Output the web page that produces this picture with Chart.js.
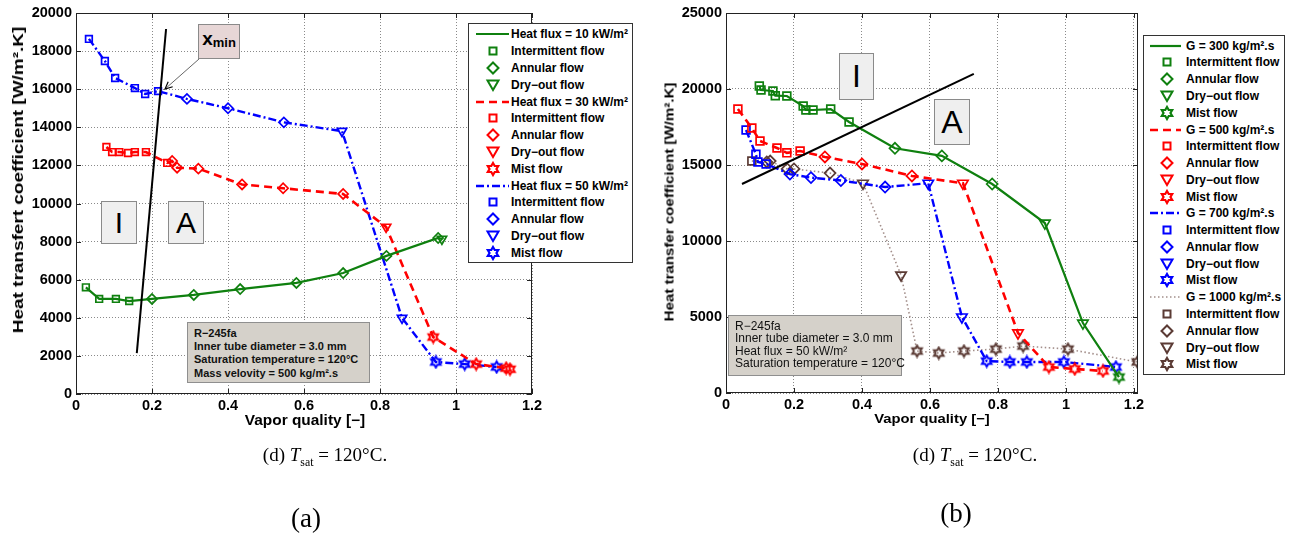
<!DOCTYPE html>
<html>
<head>
<meta charset="utf-8">
<script src="https://cdn.jsdelivr.net/npm/chart.js@4.4.0/dist/chart.umd.min.js"></script>
<style>
  html, body { margin: 0; padding: 0; background: #fff; }
  #page { position: relative; width: 1295px; height: 536px; overflow: hidden; font-family: "Liberation Sans", Arial, sans-serif; }
  canvas { position: absolute; top: 0; }
  .ovl { position: absolute; z-index: 2; }
  .axtitle { position: absolute; z-index: 2; font-weight: bold; white-space: nowrap; color: #000; }
  .tag { position: absolute; z-index: 2; box-sizing: border-box; background: #efefef; border: 1px solid #8a8a8a;
         display: flex; align-items: center; justify-content: center; font-family: "Liberation Sans", Arial, sans-serif; color: #000; }
  .info { position: absolute; z-index: 2; box-sizing: border-box; background: #d5d1ca; border: 1px solid #8f8f8f; color: #111; }
  .info div { position: absolute; white-space: nowrap; }
  .legend { position: absolute; z-index: 3; box-sizing: border-box; background: #fff; border: 1px solid #333; }
  .legend .row { position: absolute; left: 0; height: 16px; width: 100%; }
  .legend svg { position: absolute; top: 0; }
  .legend span { position: absolute; top: 0; line-height: 16px; font-size: 12px; font-weight: bold; white-space: nowrap; color: #000; }
  .cap { position: absolute; z-index: 2; font-family: "Liberation Serif", "DejaVu Serif", serif; color: #000; white-space: nowrap; transform: translate(-50%, -50%); }
  .cap sub { font-size: 0.62em; vertical-align: -0.35em; }
</style>
</head>
<body>
<div id="page">
  <canvas id="chartA" width="546" height="432" style="left:0px;width:546px;height:432px"></canvas>
  <canvas id="chartB" width="510" height="432" style="left:640px;width:510px;height:432px"></canvas>
</div>
<script>
/* ===== (a) heat flux series, G = 500 kg/m2.s ===== */
const xQ10 = [0.026, 0.061, 0.105, 0.14, 0.20, 0.31, 0.432, 0.58, 0.703, 0.817, 0.953, 0.963];
const yQ10 = [5600, 4990, 4990, 4880, 4990, 5200, 5510, 5830, 6350, 7250, 8190, 8140];
const fQ10 = ["I", "I", "I", "I", "A", "A", "A", "A", "A", "A", "A", "D"];

const xQ30 = [0.08, 0.095, 0.114, 0.137, 0.155, 0.184, 0.24, 0.253, 0.266, 0.322, 0.437, 0.545, 0.703, 0.816, 0.94, 1.053, 1.132, 1.142];
const yQ30 = [12970, 12700, 12700, 12650, 12700, 12700, 12130, 12230, 11880, 11830, 11000, 10800, 10500, 8770, 2990, 1570, 1360, 1300];
const fQ30 = ["I", "I", "I", "I", "I", "I", "I", "A", "A", "A", "A", "A", "A", "D", "M", "M", "M", "M"];

const xQ50 = [0.034, 0.076, 0.103, 0.155, 0.182, 0.216, 0.292, 0.40, 0.547, 0.70, 0.858, 0.947, 1.023, 1.107];
const yQ50 = [18640, 17480, 16590, 16060, 15750, 15900, 15490, 15000, 14260, 13800, 3990, 1680, 1570, 1420];
const fQ50 = ["I", "I", "I", "I", "I", "I", "A", "A", "A", "D", "D", "M", "M", "M"];

const xLineA = [0.16, 0.237];
const yLineA = [2150, 19160];

/* ===== (b) mass velocity series, q = 50 kW/m2 ===== */
const xG300 = [0.098, 0.103, 0.138, 0.145, 0.179, 0.227, 0.235, 0.256, 0.308, 0.362, 0.497, 0.635, 0.783, 0.938, 1.05, 1.156];
const yG300 = [20200, 19930, 19870, 19560, 19540, 18880, 18620, 18620, 18680, 17830, 16100, 15600, 13750, 11180, 4600, 1050];
const fG300 = ["I", "I", "I", "I", "I", "I", "I", "I", "I", "I", "A", "A", "A", "D", "D", "M"];

const xG500 = [0.035, 0.076, 0.10, 0.15, 0.179, 0.218, 0.291, 0.40, 0.547, 0.697, 0.859, 0.95, 1.026, 1.109];
const yG500 = [18680, 17430, 16580, 16120, 15800, 15920, 15530, 15070, 14280, 13800, 3950, 1710, 1580, 1450];
const fG500 = ["I", "I", "I", "I", "I", "I", "A", "A", "A", "D", "D", "M", "M", "M"];

const xG700 = [0.059, 0.088, 0.094, 0.118, 0.188, 0.25, 0.338, 0.468, 0.595, 0.694, 0.767, 0.835, 0.885, 0.994, 1.147];
const yG700 = [17300, 15700, 15200, 15070, 14400, 14170, 13980, 13550, 13800, 5000, 2100, 2040, 2040, 2040, 1710];
const fG700 = ["I", "I", "I", "I", "A", "A", "A", "A", "D", "D", "M", "M", "M", "M", "M"];

const xG1000 = [0.076, 0.12, 0.13, 0.18, 0.20, 0.306, 0.403, 0.515, 0.562, 0.626, 0.70, 0.794, 0.874, 1.006, 1.21];
const yG1000 = [15260, 15200, 15260, 14740, 14740, 14470, 13800, 7760, 2760, 2630, 2760, 2890, 3090, 2890, 2040];
const fG1000 = ["I", "A", "A", "A", "A", "A", "D", "D", "M", "M", "M", "M", "M", "M", "M"];

const xLineB = [0.047, 0.729];
const yLineB = [13750, 20990];

/* ===== axes ===== */
const xTicks = [0, 0.2, 0.4, 0.6, 0.8, 1, 1.2];
const xTickLabels = ["0", "0.2", "0.4", "0.6", "0.8", "1", "1.2"];
const yTicksA = [0, 2000, 4000, 6000, 8000, 10000, 12000, 14000, 16000, 18000, 20000];
const yTicksB = [0, 5000, 10000, 15000, 20000, 25000];

/* ===== styles ===== */
const GREEN = "#0f800f", RED = "#ff0000", BLUE = "#0000ff", BROWN = "#5b3b35", BROWN_LINE = "#a38f8b";
const FLOW_NAME = { I: "Intermittent flow", A: "Annular flow", D: "Dry\u2212out flow", M: "Mist flow" };
const MARKER = { I: "rect", A: "rectRot", D: "triangle" };

Chart.defaults.font.family = "'Liberation Sans', Arial, sans-serif";
Chart.defaults.color = "#000";

/* ========= Hilfsfunktionen ========= */
function hexPoints(cx, cy, r) {
  const pts = [];
  for (let k = 0; k < 12; k++) {
    const a = -Math.PI / 2 + k * Math.PI / 6;
    const rr = k % 2 ? r / Math.sqrt(3) : r;
    pts.push([cx + rr * Math.cos(a), cy + rr * Math.sin(a)]);
  }
  return pts;
}

function hexagram(color, r) {
  const c = document.createElement("canvas");
  const size = Math.ceil(2 * r + 4);
  c.width = c.height = size;
  const g = c.getContext("2d");
  g.strokeStyle = color;
  g.lineWidth = 2;
  g.beginPath();
  hexPoints(size / 2, size / 2, r).forEach((p, i) => i ? g.lineTo(p[0], p[1]) : g.moveTo(p[0], p[1]));
  g.closePath();
  g.stroke();
  return c;
}

function series(xs, ys, flows, st, sizes) {
  const hex = hexagram(st.color, sizes.M);
  return {
    data: xs.map((x, i) => ({ x, y: ys[i] })),
    showLine: true,
    borderColor: st.lineColor,
    borderWidth: st.width,
    borderDash: st.dash,
    pointStyle: flows.map(f => f === "M" ? hex : MARKER[f]),
    pointRotation: flows.map(f => f === "D" ? 180 : 0),
    pointRadius: flows.map(f => sizes[f]),
    pointBorderColor: st.color,
    pointBackgroundColor: "rgba(0,0,0,0)",
    pointBorderWidth: 1.7,
    tension: 0
  };
}

function boundary(xs, ys) {
  return {
    data: xs.map((x, i) => ({ x, y: ys[i] })),
    showLine: true, borderColor: "#000", borderWidth: 2, pointRadius: 0
  };
}

/* MATLAB-like box with inward ticks */
const boxPlugin = {
  id: "matlabBox",
  afterDatasetsDraw(chart) {
    const { ctx, chartArea: a, scales: { x, y } } = chart;
    ctx.save();
    ctx.strokeStyle = "#222";
    ctx.lineWidth = 1;
    ctx.strokeRect(a.left + 0.5, a.top + 0.5, a.right - a.left - 1, a.bottom - a.top - 1);
    ctx.beginPath();
    x.ticks.forEach(t => {
      const px = Math.round(x.getPixelForValue(t.value)) + 0.5;
      ctx.moveTo(px, a.bottom); ctx.lineTo(px, a.bottom - 5);
      ctx.moveTo(px, a.top); ctx.lineTo(px, a.top + 5);
    });
    y.ticks.forEach(t => {
      const py = Math.round(y.getPixelForValue(t.value)) + 0.5;
      ctx.moveTo(a.left, py); ctx.lineTo(a.left + 5, py);
      ctx.moveTo(a.right, py); ctx.lineTo(a.right - 5, py);
    });
    ctx.stroke();
    ctx.restore();
  }
};

function makeOptions(cfg) {
  const tickFont = { size: 14.5, weight: "bold" };
  return {
    responsive: false,
    animation: false,
    events: [],
    layout: { padding: { top: 13, right: cfg.rightPad, left: 0, bottom: 0 } },
    plugins: { legend: { display: false }, tooltip: { enabled: false } },
    scales: {
      x: {
        type: "linear", min: 0, max: cfg.xMax,
        afterBuildTicks: s => { s.ticks = xTicks.map(v => ({ value: v })); },
        afterFit: s => { s.height = cfg.xAxisHeight; },
        ticks: { font: tickFont, padding: 3, maxRotation: 0, callback: (v, i) => xTickLabels[i] },
        grid: { color: "#8a8a8a", lineWidth: 1, drawTicks: false },
        border: { display: false, dash: [1, 2] }
      },
      y: {
        type: "linear", min: 0, max: cfg.yMax,
        afterBuildTicks: s => { s.ticks = cfg.yTicks.map(v => ({ value: v })); },
        afterFit: s => { s.width = cfg.yAxisWidth; },
        ticks: { font: tickFont, padding: 4, callback: (v, i) => String(cfg.yTicks[i]) },
        grid: { color: "#8a8a8a", lineWidth: 1, drawTicks: false },
        border: { display: false, dash: [1, 2] }
      }
    }
  };
}

/* ========= Legende ========= */
function symbolSVG(kind, st, L) {
  const c = st.color;
  let inner = "";
  if (kind === "line") {
    const dash = st.dash.length ? `stroke-dasharray="${st.dash.join(",")}"` : "";
    inner = `<line x1="${L.x1}" y1="8" x2="${L.x2}" y2="8" stroke="${st.lineColor}" stroke-width="${st.width}" ${dash}/>`;
  } else if (kind === "I") {
    inner = `<rect x="${L.cx - 3.5}" y="4.5" width="7" height="7" fill="none" stroke="${c}" stroke-width="2"/>`;
  } else if (kind === "A") {
    inner = `<polygon points="${L.cx},2.5 ${L.cx + 5.5},8 ${L.cx},13.5 ${L.cx - 5.5},8" fill="none" stroke="${c}" stroke-width="2"/>`;
  } else if (kind === "D") {
    inner = `<polygon points="${L.cx - 5.5},3.5 ${L.cx + 5.5},3.5 ${L.cx},13" fill="none" stroke="${c}" stroke-width="2"/>`;
  } else {
    const pts = hexPoints(L.cx, 8, 6).map(p => p[0].toFixed(2) + "," + p[1].toFixed(2)).join(" ");
    inner = `<polygon points="${pts}" fill="none" stroke="${c}" stroke-width="2.2"/>`;
  }
  return `<svg width="40" height="16" style="left:${L.svgLeft}px">${inner}</svg>`;
}

function buildLegend(items, L) {
  const box = document.createElement("div");
  box.className = "legend";
  Object.assign(box.style, { left: L.left + "px", top: L.top + "px", width: L.width + "px", height: L.height + "px" });
  let row = 0;
  items.forEach(it => {
    const kinds = ["line"].concat(it.flows);
    kinds.forEach(k => {
      const r = document.createElement("div");
      r.className = "row";
      r.style.top = (L.center0 + row * L.step - L.top - 1 - 8) + "px";
      const text = k === "line" ? it.label : FLOW_NAME[k];
      r.innerHTML = symbolSVG(k, it, L) + `<span style="left:${L.textLeft}px">${text}</span>`;
      box.appendChild(r);
      row++;
    });
  });
  document.getElementById("page").appendChild(box);
}

/* ========= Overlays ========= */
function addEl(cls, html, style) {
  const d = document.createElement("div");
  d.className = cls;
  d.innerHTML = html;
  Object.assign(d.style, style);
  document.getElementById("page").appendChild(d);
  return d;
}

function axisTitle(text, cx, cy, len, size, vertical) {
  const d = addEl("axtitle", text, { left: cx + "px", top: cy + "px", fontSize: size + "px" });
  const k = len / d.offsetWidth;
  d.style.transform = `translate(-50%,-50%)${vertical ? " rotate(-90deg)" : ""} scaleX(${k})`;
}

function infoBox(lines, box, textStyle) {
  const d = addEl("info", "", { left: box[0] + "px", top: box[1] + "px", width: box[2] + "px", height: box[3] + "px" });
  lines.forEach((t, i) => {
    const l = document.createElement("div");
    l.textContent = t;
    Object.assign(l.style, textStyle, { top: (textStyle.firstTop + i * textStyle.step) + "px" });
    d.appendChild(l);
  });
}

/* ========= Hauptlogik ========= */
const stA = [
  { label: "Heat flux = 10 kW/m\u00b2", color: GREEN, lineColor: GREEN, dash: [], width: 2.2, flows: ["I", "A", "D"] },
  { label: "Heat flux = 30 kW/m\u00b2", color: RED, lineColor: RED, dash: [8, 5], width: 2.6, flows: ["I", "A", "D", "M"] },
  { label: "Heat flux = 50 kW/m\u00b2", color: BLUE, lineColor: BLUE, dash: [8, 3, 2, 3], width: 2.4, flows: ["I", "A", "D", "M"] }
];
const stB = [
  { label: "G = 300 kg/m\u00b2.s", color: GREEN, lineColor: GREEN, dash: [], width: 2.2, flows: ["I", "A", "D", "M"] },
  { label: "G = 500 kg/m\u00b2.s", color: RED, lineColor: RED, dash: [8, 5], width: 2.6, flows: ["I", "A", "D", "M"] },
  { label: "G = 700 kg/m\u00b2.s", color: BLUE, lineColor: BLUE, dash: [8, 3, 2, 3], width: 2.4, flows: ["I", "A", "D", "M"] },
  { label: "G = 1000 kg/m\u00b2.s", color: BROWN, lineColor: BROWN_LINE, dash: [1.5, 2.5], width: 1.6, flows: ["I", "A", "D", "M"] }
];
const sizeA = { I: 4.7, A: 5, D: 5.4, M: 5.5 };
const sizeB = { I: 5.5, A: 5.5, D: 6, M: 5.5 };

new Chart(document.getElementById("chartA"), {
  type: "scatter",
  data: {
    datasets: [
      boundary(xLineA, yLineA),
      series(xQ10, yQ10, fQ10, stA[0], sizeA),
      series(xQ30, yQ30, fQ30, stA[1], sizeA),
      series(xQ50, yQ50, fQ50, stA[2], sizeA)
    ]
  },
  options: makeOptions({ xMax: 1.2, yMax: 20000, yTicks: yTicksA, yAxisWidth: 76, xAxisHeight: 38, rightPad: 14 }),
  plugins: [boxPlugin]
});

new Chart(document.getElementById("chartB"), {
  type: "scatter",
  data: {
    datasets: [
      boundary(xLineB, yLineB),
      series(xG300, yG300, fG300, stB[0], sizeB),
      series(xG500, yG500, fG500, stB[1], sizeB),
      series(xG700, yG700, fG700, stB[2], sizeB),
      series(xG1000, yG1000, fG1000, stB[3], sizeB)
    ]
  },
  options: makeOptions({ xMax: 1.212, yMax: 25000, yTicks: yTicksB, yAxisWidth: 86, xAxisHeight: 39, rightPad: 12 }),
  plugins: [boxPlugin]
});

/* axis titles */
axisTitle("Heat transfert coefficient [W/m\u00b2.K]", 17.5, 180, 306, 14, true);
axisTitle("Vapor quality [\u2212]", 305, 420, 120, 14, false);
axisTitle("Heat transfer coefficient [W/m\u00b2.K]", 669, 202, 239, 13, true);
axisTitle("Vapor quality [\u2212]", 932, 418, 116, 13, false);

/* region tags */
addEl("tag", "I", { left: "101px", top: "201px", width: "36px", height: "43px", fontSize: "30px" });
addEl("tag", "A", { left: "168px", top: "201px", width: "36px", height: "43px", fontSize: "30px" });
addEl("tag", "I", { left: "839px", top: "53px", width: "35px", height: "47px", fontSize: "32px" });
addEl("tag", "A", { left: "934px", top: "99px", width: "36px", height: "46px", fontSize: "32px" });
addEl("tag", "<b style='font-size:19px'>x</b><b style='font-size:13px;position:relative;top:7px'>min</b>",
  { left: "198px", top: "24px", width: "42px", height: "35px", background: "#e7d6d6", alignItems: "flex-start", paddingTop: "3px" });

/* x_min arrow */
(function () {
  const tail = [199, 59], tip = [165, 89];
  const dx = tip[0] - tail[0], dy = tip[1] - tail[1], n = Math.hypot(dx, dy);
  const ux = dx / n, uy = dy / n;
  const head = [25, -25].map(deg => {
    const a = deg * Math.PI / 180;
    const bx = -ux * Math.cos(a) + uy * Math.sin(a), by = -uy * Math.cos(a) - ux * Math.sin(a);
    return [tip[0] + 8 * bx, tip[1] + 8 * by];
  });
  const svg = `<svg width="1295" height="536"><line x1="${tail[0]}" y1="${tail[1]}" x2="${tip[0]}" y2="${tip[1]}" stroke="#666" stroke-width="1"/>` +
    `<polyline points="${head[0].join(",")} ${tip.join(",")} ${head[1].join(",")}" fill="none" stroke="#000" stroke-width="1.2"/></svg>`;
  addEl("ovl", svg, { left: "0px", top: "0px", pointerEvents: "none" });
})();

/* info boxes */
infoBox(["R\u2212245fa", "Inner tube diameter = 3.0 mm", "Saturation temperature = 120\u00b0C", "Mass velovity = 500 kg/m\u00b2.s"],
  [187, 322, 183, 61], { left: "6px", fontSize: "11px", fontWeight: "bold", firstTop: 4, step: 13.2 });
infoBox(["R\u2212245fa", "Inner tube diameter = 3.0 mm", "Heat flux = 50 kW/m\u00b2", "Saturation temperature = 120\u00b0C"],
  [728, 315, 174, 61], { left: "6px", fontSize: "12px", fontWeight: "normal", firstTop: 3, step: 12.4 });

/* legends */
buildLegend(stA, { left: 468, top: 23, width: 165, height: 240, center0: 34.3, step: 16.8, svgLeft: 4, x1: 3, x2: 36, cx: 20, textLeft: 42 });
buildLegend(stB, { left: 1143, top: 35, width: 142, height: 340, center0: 45.7, step: 16.77, svgLeft: 4, x1: 2, x2: 33, cx: 19, textLeft: 42 });

/* captions */
addEl("cap", "(d) <i>T</i><sub>sat</sub> = 120\u00b0C.", { left: "325px", top: "457px", fontSize: "19px" });
addEl("cap", "(d) <i>T</i><sub>sat</sub> = 120\u00b0C.", { left: "975px", top: "457px", fontSize: "19px" });
addEl("cap", "(a)", { left: "306px", top: "518px", fontSize: "27px" });
addEl("cap", "(b)", { left: "956px", top: "513px", fontSize: "27px" });
</script>
</body>
</html>
